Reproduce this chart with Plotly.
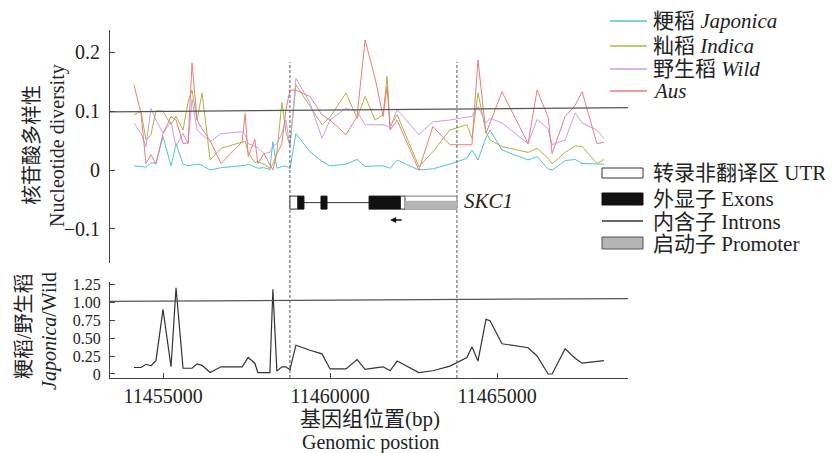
import plotly.graph_objects as go

# ---------------- data ----------------
positions = [11454130, 11454340, 11454490, 11454640, 11454790, 11455000, 11455240, 11455390, 11455600, 11455750,
             11455870, 11456020, 11456170, 11456410, 11456740, 11457370, 11457460, 11457550, 11457750, 11457840,
             11458020, 11458200, 11458290, 11458410, 11458560, 11458680, 11458800, 11458980, 11459400, 11459760,
             11460000, 11460480, 11460810, 11461050, 11461350, 11461590, 11461710, 11461800, 11462010, 11462660,
             11463080, 11463590, 11464100, 11464250, 11464430, 11464670, 11464790, 11465150, 11465930, 11466200,
             11466530, 11466650, 11467040, 11467340, 11467550, 11467990, 11468200]

japonica = [.007, .006, .005, .012, .012, .057, .007, .045, .010, .007,
            .008, .010, .008, .000, .004, .007, .008, .010, .006, .003,
            .004, .001, .048, .003, .006, .007, .002, .062, .031, .015,
            .007, .010, .018, .006, .007, .007, .005, .003, .017, .000,
            .002, .010, .020, .034, .017, .055, .068, .034, .017, .023,
            .002, .000, .016, .018, .011, .010, .010]

indica = [.094, .100, .051, .060, .101, .100, .077, .091, .068, .116,
          .136, .085, .131, .017, .037, .048, .049, .030, .013, .014,
          .010, .003, .010, .030, .115, .065, .041, .145, .108, .077,
          .090, .131, .088, .125, .085, .094, .159, .074, .094, .006,
          .031, .068, .077, .054, .131, .065, .051, .040, .030, .037,
          .020, .011, .030, .041, .040, .011, .018]

wild = [.080, .062, .040, .105, .085, .063, .082, .040, .062, .045,
        .120, .068, .060, .048, .062, .065, .060, .045, .040, .038,
        .028, .030, .040, .045, .062, .085, .040, .156, .114, .054,
        .085, .105, .100, .077, .077, .077, .075, .071, .103, .060,
        .082, .085, .090, .091, .108, .080, .088, .080, .045, .086,
        .070, .043, .051, .097, .080, .068, .054]

aus = [.145, .097, .011, .026, .010, .062, .091, .085, .045, .046,
       .182, .085, .070, .050, .011, .048, .096, .023, .052, .011,
       .028, .008, .000, .028, .045, .102, .136, .136, .125, .094,
       .085, .060, .091, .221, .156, .091, .142, .068, .085, .000,
       .074, .043, .043, .043, .187, .062, .080, .133, .045, .136,
       .090, .028, .091, .110, .133, .045, .047]

ratio = [.09, .09, .135, .115, .185, .90, .10, 1.20, .08, .08,
         .08, .14, .12, .02, .10, .10, .16, .23, .15, .02,
         .02, .02, 1.18, .04, .10, .10, .06, .40, .33, .28,
         .07, .07, .20, .065, .085, .10, .07, .045, .18, .02,
         .045, .11, .23, .38, .18, .76, .74, .42, .365, .25,
         .00, .00, .35, .22, .15, .17, .185]

x_range = [11453413, 11468922]
ref_top = [0.099, 0.106]      # trend line, top panel
ref_bottom = [1.01, 1.05]     # trend line, bottom panel
gene_bounds = [11458800, 11463800]   # dashed lines

# gene structure (start, end)
utr = [(11458800, 11459040), (11462100, 11462250)]
exons = [(11459040, 11459220), (11459730, 11459910), (11461170, 11462100)]
intron_span = (11458800, 11462250)
promoter = (11462250, 11463800)
arrow_span = (11462190, 11461800)

series_names = ["粳稻 <i>Japonica</i>", "籼稻 <i>Indica</i>", "野生稻 <i>Wild</i>", "<i>Aus</i>"]
series_colors = ["#4cc6d2", "#a9b83c", "#c99cf0", "#f07b7b"]
structure_names = ["转录非翻译区 UTR", "外显子 Exons", "内含子 Introns", "启动子 Promoter"]

x_tick_vals = [11455000, 11460000, 11465000]
top_tick_vals = [-0.1, 0, 0.1, 0.2]
top_tick_text = ["−0.1", "0", "0.1", "0.2"]
bot_tick_vals = [0, 0.25, 0.5, 0.75, 1.0, 1.25]
bot_tick_text = ["0", "0.25", "0.50", "0.75", "1.00", "1.25"]

# ---------------- layout helpers ----------------
W, H = 833, 453
OFF = 8  # page offset of the figure inside the browser window
def px(p):
    return (p - OFF) / W
def py(p):
    return 1 - (p - OFF) / H

FONT = 'Liberation Serif, "Noto Sans CJK SC", serif'
TXT = "#222222"
AX = "#444444"

fig = go.Figure()

for name, vals, col in zip(series_names, [japonica, indica, wild, aus], series_colors):
    fig.add_trace(go.Scatter(x=positions, y=vals, mode="lines", name=name,
                             line=dict(color=col, width=1), xaxis="x", yaxis="y",
                             showlegend=False))
fig.add_trace(go.Scatter(x=x_range, y=ref_top, mode="lines", line=dict(color="#555555", width=1.2),
                         xaxis="x", yaxis="y", showlegend=False))
fig.add_trace(go.Scatter(x=positions, y=ratio, mode="lines", line=dict(color="#333333", width=1.2),
                         xaxis="x2", yaxis="y2", showlegend=False))
fig.add_trace(go.Scatter(x=x_range, y=ref_bottom, mode="lines", line=dict(color="#555555", width=1.2),
                         xaxis="x2", yaxis="y2", showlegend=False))

shapes = []
for gx in gene_bounds:
    shapes.append(dict(type="line", xref="x", yref="paper", x0=gx, x1=gx, y0=py(378), y1=py(62),
                       line=dict(color="#555555", width=1, dash="3px,2px")))

# gene model in top panel data coordinates
g_top, g_bot, g_mid = -0.0443, -0.0664, -0.0554
shapes.append(dict(type="line", xref="x", yref="y", x0=intron_span[0], x1=intron_span[1], y0=g_mid, y1=g_mid,
                   line=dict(color="#333333", width=1)))
for a, b in utr:
    shapes.append(dict(type="rect", xref="x", yref="y", x0=a, x1=b, y0=g_bot, y1=g_top,
                       fillcolor="white", line=dict(color="#333333", width=1)))
shapes.append(dict(type="rect", xref="x", yref="y", x0=promoter[0], x1=promoter[1], y0=g_bot, y1=g_top,
                   fillcolor="white", line=dict(color="#777777", width=1)))
shapes.append(dict(type="rect", xref="x", yref="y", x0=promoter[0], x1=promoter[1], y0=g_bot, y1=g_mid + 0.003,
                   fillcolor="#b5b5b5", line=dict(width=0)))
for a, b in exons:
    shapes.append(dict(type="rect", xref="x", yref="y", x0=a, x1=b, y0=g_bot, y1=g_top,
                       fillcolor="#111111", line=dict(color="#111111", width=1)))

annotations = []
annotations.append(dict(x=arrow_span[1], y=-0.085, ax=arrow_span[0], ay=-0.085, xref="x", yref="y",
                        axref="x", ayref="y", showarrow=True, arrowhead=2, arrowsize=0.8, arrowwidth=1.5,
                        arrowcolor="#111111", text=""))
annotations.append(dict(x=px(462), y=py(201), xref="paper", yref="paper", xanchor="left", yanchor="middle",
                        text="<i>SKC1</i>", showarrow=False, font=dict(family=FONT, size=21, color=TXT)))

# series legend (top right)
leg_y = [21, 46, 69, 91]
for name, col, yy in zip(series_names, series_colors, leg_y):
    shapes.append(dict(type="line", xref="paper", yref="paper", x0=px(610), x1=px(647), y0=py(yy), y1=py(yy),
                       line=dict(color=col, width=1.5)))
    annotations.append(dict(x=px(651), y=py(yy), xref="paper", yref="paper", xanchor="left", yanchor="middle",
                            text=name, showarrow=False, font=dict(family=FONT, size=21, color=TXT)))

# structure legend
st_y = [173, 199, 222, 244]
shapes.append(dict(type="rect", xref="paper", yref="paper", x0=px(602), x1=px(643), y0=py(178), y1=py(168),
                   fillcolor="white", line=dict(color="#333333", width=1)))
shapes.append(dict(type="rect", xref="paper", yref="paper", x0=px(602), x1=px(643), y0=py(205), y1=py(193),
                   fillcolor="#111111", line=dict(color="#111111", width=1)))
shapes.append(dict(type="line", xref="paper", yref="paper", x0=px(602), x1=px(643), y0=py(221), y1=py(221),
                   line=dict(color="#333333", width=1.3)))
shapes.append(dict(type="rect", xref="paper", yref="paper", x0=px(602), x1=px(643), y0=py(249), y1=py(237),
                   fillcolor="#b5b5b5", line=dict(color="#555555", width=1)))
for name, yy in zip(structure_names, st_y):
    annotations.append(dict(x=px(651), y=py(yy), xref="paper", yref="paper", xanchor="left", yanchor="middle",
                            text=name, showarrow=False, font=dict(family=FONT, size=21, color=TXT)))

# axis titles
def vtitle(text, cx, cy):
    annotations.append(dict(x=px(cx), y=py(cy), xref="paper", yref="paper", xanchor="center", yanchor="middle",
                            text=text, textangle=-90, showarrow=False, font=dict(family=FONT, size=20, color=TXT)))
vtitle("核苷酸多样性", 32, 145)
vtitle("Nucleotide diversity", 57, 146)
vtitle("粳稻/野生稻", 24, 326)
vtitle("<i>Japonica</i>/Wild", 49, 331)
annotations.append(dict(x=px(370), y=py(419), xref="paper", yref="paper", xanchor="center", yanchor="middle",
                        text="基因组位置(bp)", showarrow=False, font=dict(family=FONT, size=21, color=TXT)))
annotations.append(dict(x=px(370), y=py(442), xref="paper", yref="paper", xanchor="center", yanchor="middle",
                        text="Genomic postion", showarrow=False, font=dict(family=FONT, size=20, color=TXT)))

tickfont = dict(family=FONT, size=20, color=TXT)
fig.update_layout(
    template="none",
    width=W, height=H, margin=dict(l=0, r=0, t=0, b=0, pad=0, autoexpand=False),
    paper_bgcolor="white", plot_bgcolor="white",
    showlegend=False,
    xaxis=dict(domain=[px(110), px(628)], range=x_range, anchor="y", visible=False, automargin=False),
    yaxis=dict(domain=[py(263), py(30)], range=[-0.158, 0.238], anchor="x", automargin=False,
               showline=True, linecolor=AX, linewidth=1, ticks="inside", ticklen=5, tickcolor=AX,
               tickvals=top_tick_vals, ticktext=top_tick_text, tickfont=tickfont,
               showgrid=False, zeroline=False, ticklabelstandoff=5),
    xaxis2=dict(domain=[px(110), px(628)], range=x_range, anchor="y2", automargin=False,
                showline=True, linecolor=AX, linewidth=1, ticks="inside", ticklen=5, tickcolor=AX,
                tickvals=x_tick_vals, ticktext=[str(v) for v in x_tick_vals], tickfont=tickfont,
                showgrid=False, zeroline=False),
    yaxis2=dict(domain=[py(378), py(282)], range=[-0.056, 1.28], anchor="x2", automargin=False,
                showline=True, linecolor=AX, linewidth=1, ticks="inside", ticklen=5, tickcolor=AX,
                tickvals=bot_tick_vals, ticktext=bot_tick_text, tickfont=dict(family=FONT, size=16, color=TXT),
                showgrid=False, zeroline=False, ticklabelstandoff=5),
    shapes=shapes, annotations=annotations,
)

fig.write_html("out.html")
